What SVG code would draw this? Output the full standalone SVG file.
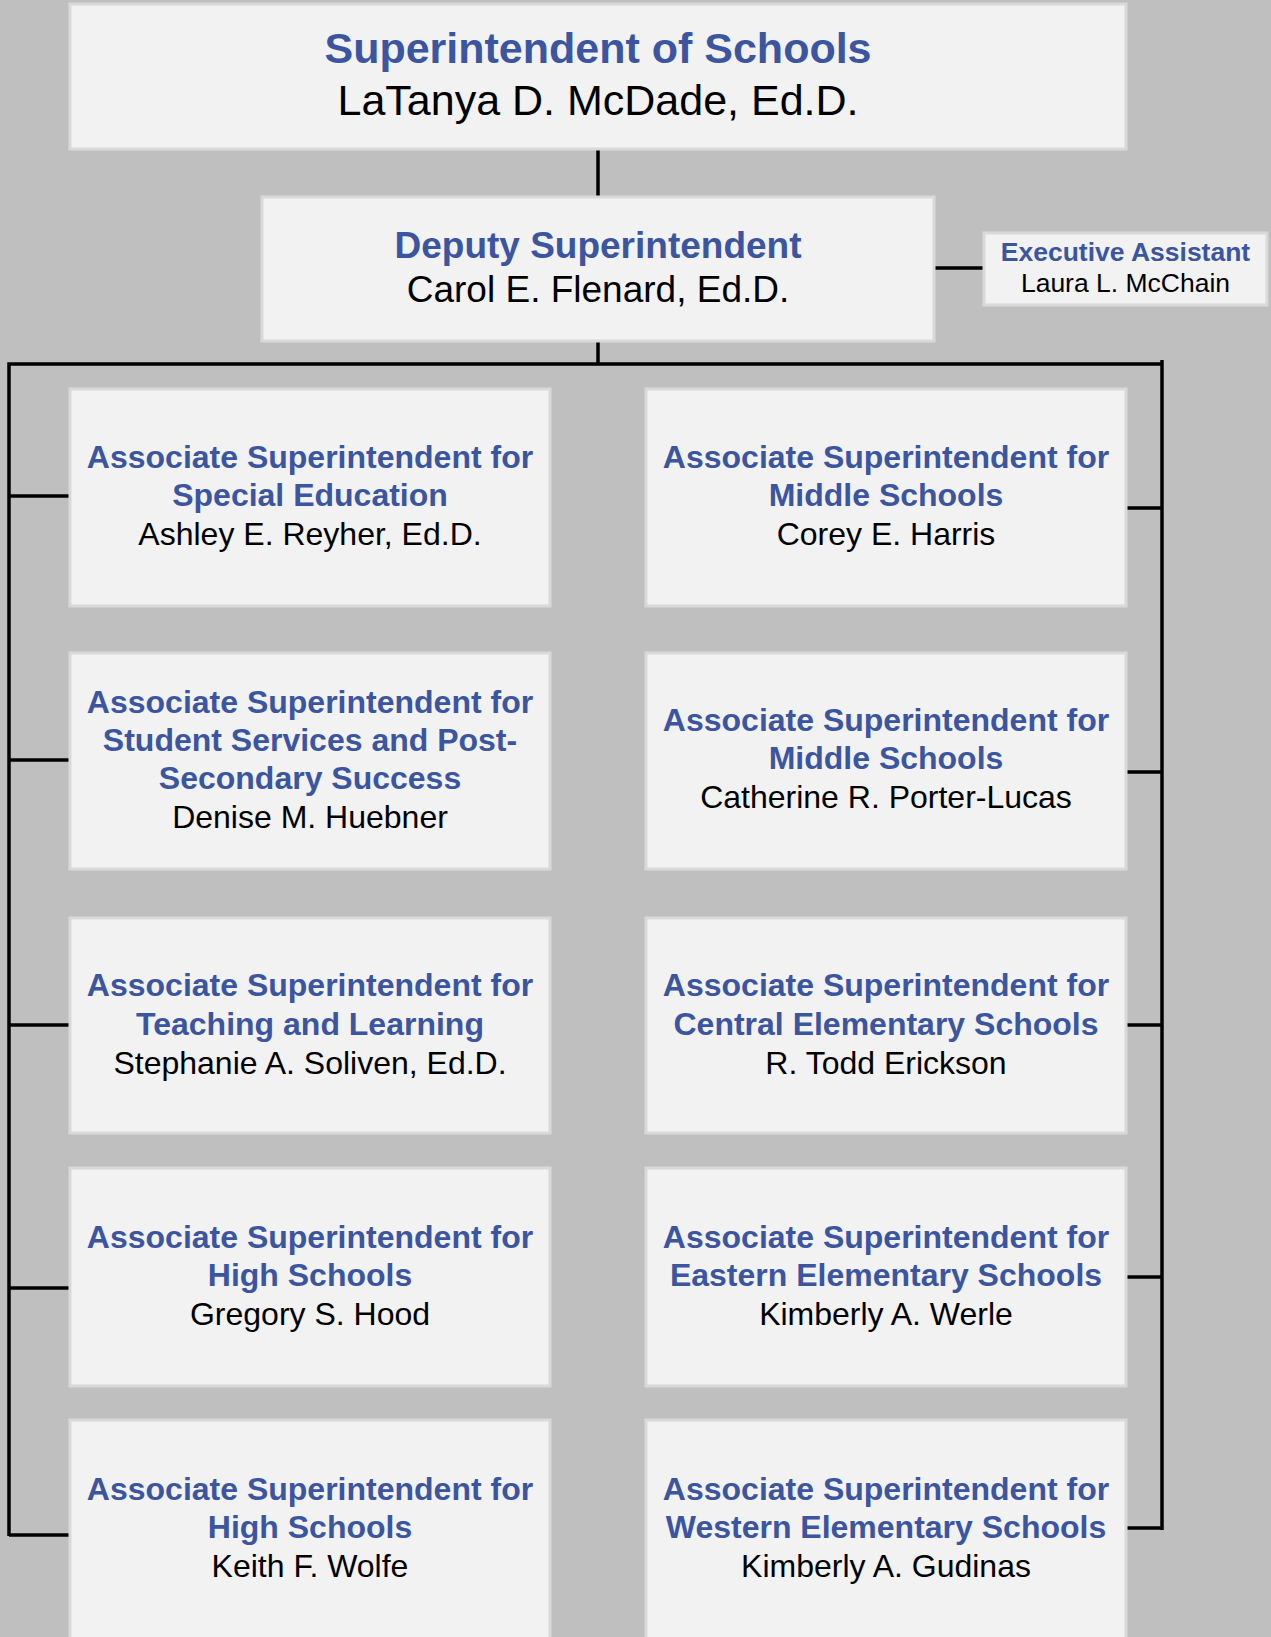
<svg xmlns="http://www.w3.org/2000/svg" width="1271" height="1637" viewBox="0 0 1271 1637">
<style>
.box{fill:#f2f2f2;stroke:#d9d9d9;stroke-width:3}
.t{font-family:"Liberation Sans",Arial,sans-serif;font-weight:bold;fill:#3b55a0;text-anchor:middle}
.n{font-family:"Liberation Sans",Arial,sans-serif;fill:#000;text-anchor:middle}
.s32{font-size:32px}
.c{stroke:#000;stroke-width:3.5;fill:none}
</style>
<rect x="0" y="0" width="1271" height="1637" fill="#bfbfbf"/>
<g id="connectors">
<line class="c" x1="598" y1="149" x2="598" y2="196" stroke-width="2.5"/>
<line class="c" x1="935" y1="268" x2="984" y2="268"/>
<line class="c" x1="598" y1="340" x2="598" y2="364"/>
<polyline class="c" points="9,1536 9,364 1162,364"/>
<line class="c" x1="1162" y1="360" x2="1162" y2="1530"/>
<line class="c" x1="9" y1="496" x2="69" y2="496"/>
<line class="c" x1="9" y1="760" x2="69" y2="760"/>
<line class="c" x1="9" y1="1025" x2="69" y2="1025"/>
<line class="c" x1="9" y1="1288" x2="69" y2="1288"/>
<line class="c" x1="9" y1="1535" x2="69" y2="1535"/>
<line class="c" x1="1127" y1="508" x2="1162" y2="508"/>
<line class="c" x1="1127" y1="772" x2="1162" y2="772"/>
<line class="c" x1="1127" y1="1025" x2="1162" y2="1025"/>
<line class="c" x1="1127" y1="1277" x2="1162" y2="1277"/>
<line class="c" x1="1127" y1="1528" x2="1162" y2="1528"/>
</g>
<g id="superintendent">
<rect class="box" x="70" y="4" width="1056" height="145"/>
<text class="t" x="598" y="63" font-size="43">Superintendent of Schools</text>
<text class="n" x="598" y="115" font-size="43">LaTanya D. McDade, Ed.D.</text>
</g>
<g id="deputy">
<rect class="box" x="262" y="197" width="672" height="144"/>
<text class="t" x="598" y="258" font-size="37">Deputy Superintendent</text>
<text class="n" x="598" y="302" font-size="37">Carol E. Flenard, Ed.D.</text>
</g>
<g id="exec-assistant">
<rect class="box" x="984" y="233" width="283" height="72"/>
<text class="t" x="1125.5" y="261" font-size="26.5">Executive Assistant</text>
<text class="n" x="1125.5" y="292" font-size="26.5">Laura L. McChain</text>
</g>
<g id="special-ed">
<rect class="box" x="70" y="389" width="480" height="217"/>
<text class="t s32" x="310" y="468">Associate Superintendent for</text>
<text class="t s32" x="310" y="506">Special Education</text>
<text class="n s32" x="310" y="545">Ashley E. Reyher, Ed.D.</text>
</g>
<g id="middle-1">
<rect class="box" x="646" y="389" width="480" height="217"/>
<text class="t s32" x="886" y="468">Associate Superintendent for</text>
<text class="t s32" x="886" y="506">Middle Schools</text>
<text class="n s32" x="886" y="545">Corey E. Harris</text>
</g>
<g id="student-services">
<rect class="box" x="70" y="653" width="480" height="216"/>
<text class="t s32" x="310" y="713">Associate Superintendent for</text>
<text class="t s32" x="310" y="751">Student Services and Post-</text>
<text class="t s32" x="310" y="789">Secondary Success</text>
<text class="n s32" x="310" y="828">Denise M. Huebner</text>
</g>
<g id="middle-2">
<rect class="box" x="646" y="653" width="480" height="216"/>
<text class="t s32" x="886" y="731">Associate Superintendent for</text>
<text class="t s32" x="886" y="769">Middle Schools</text>
<text class="n s32" x="886" y="808">Catherine R. Porter-Lucas</text>
</g>
<g id="teaching-learning">
<rect class="box" x="70" y="918" width="480" height="215"/>
<text class="t s32" x="310" y="996">Associate Superintendent for</text>
<text class="t s32" x="310" y="1035">Teaching and Learning</text>
<text class="n s32" x="310" y="1074">Stephanie A. Soliven, Ed.D.</text>
</g>
<g id="central-elem">
<rect class="box" x="646" y="918" width="480" height="215"/>
<text class="t s32" x="886" y="996">Associate Superintendent for</text>
<text class="t s32" x="886" y="1035">Central Elementary Schools</text>
<text class="n s32" x="886" y="1074">R. Todd Erickson</text>
</g>
<g id="high-1">
<rect class="box" x="70" y="1168" width="480" height="218"/>
<text class="t s32" x="310" y="1248">Associate Superintendent for</text>
<text class="t s32" x="310" y="1286">High Schools</text>
<text class="n s32" x="310" y="1325">Gregory S. Hood</text>
</g>
<g id="eastern-elem">
<rect class="box" x="646" y="1168" width="480" height="218"/>
<text class="t s32" x="886" y="1248">Associate Superintendent for</text>
<text class="t s32" x="886" y="1286">Eastern Elementary Schools</text>
<text class="n s32" x="886" y="1325">Kimberly A. Werle</text>
</g>
<g id="high-2">
<rect class="box" x="70" y="1420" width="480" height="230"/>
<text class="t s32" x="310" y="1500">Associate Superintendent for</text>
<text class="t s32" x="310" y="1538">High Schools</text>
<text class="n s32" x="310" y="1577">Keith F. Wolfe</text>
</g>
<g id="western-elem">
<rect class="box" x="646" y="1420" width="480" height="230"/>
<text class="t s32" x="886" y="1500">Associate Superintendent for</text>
<text class="t s32" x="886" y="1538">Western Elementary Schools</text>
<text class="n s32" x="886" y="1577">Kimberly A. Gudinas</text>
</g>
</svg>
